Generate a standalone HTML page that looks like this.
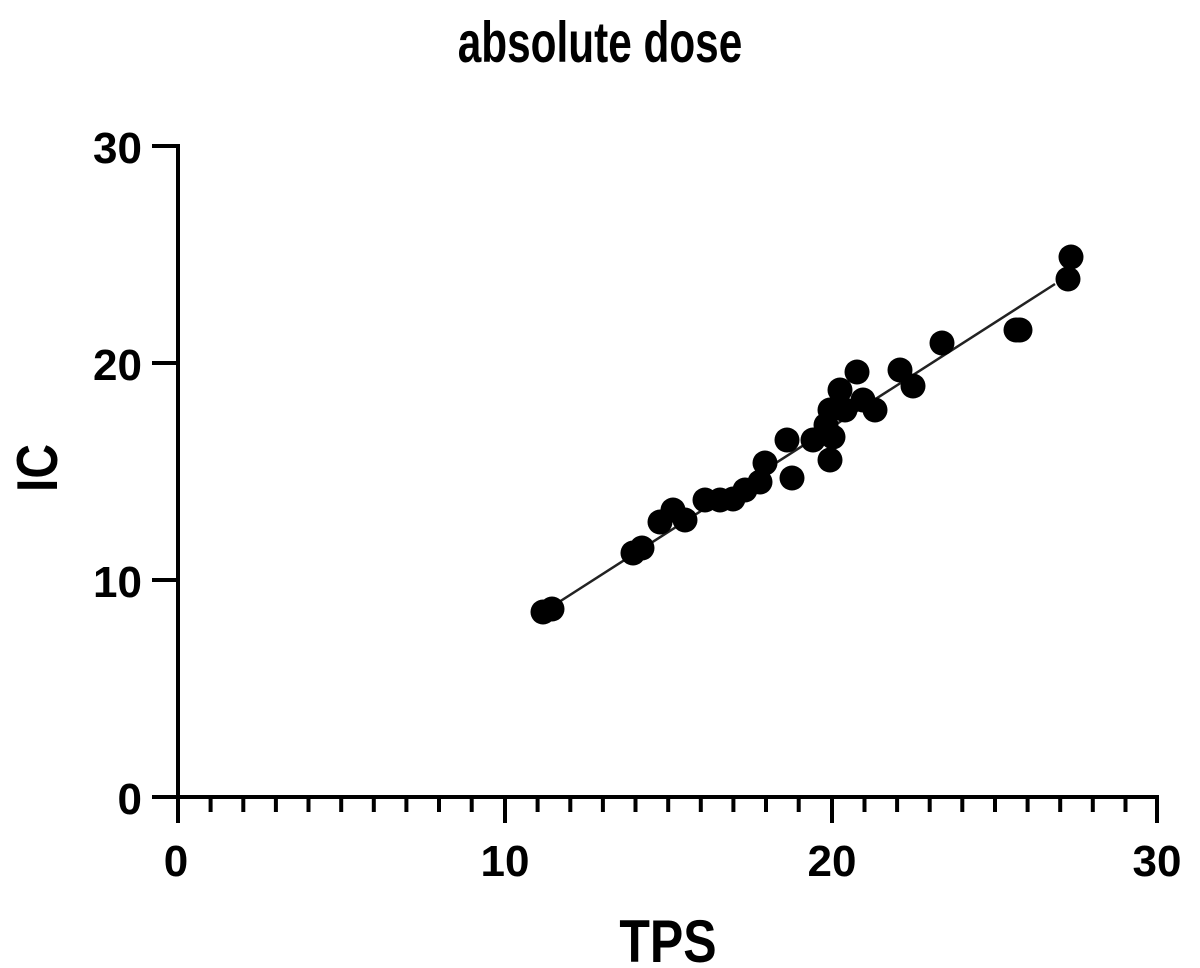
<!DOCTYPE html>
<html><head><style>body{margin:0;background:#fff}svg{display:block}</style></head>
<body>
<svg width="1200" height="968" viewBox="0 0 1200 968" xmlns="http://www.w3.org/2000/svg" font-family="Liberation Sans, sans-serif" font-weight="bold">
<rect width="1200" height="968" fill="#fff"/>
<text transform="translate(600,62) scale(0.92,1.25)" font-size="46" text-anchor="middle">absolute dose</text>
<g stroke="#000" stroke-width="4" fill="none">
<line x1="178" y1="144" x2="178" y2="823"/>
<line x1="152" y1="797" x2="1159" y2="797"/>
<line x1="152" y1="146" x2="178" y2="146"/>
<line x1="152" y1="363" x2="178" y2="363"/>
<line x1="152" y1="580" x2="178" y2="580"/>
<line x1="505" y1="797" x2="505" y2="823"/>
<line x1="832" y1="797" x2="832" y2="823"/>
<line x1="1157" y1="797" x2="1157" y2="823"/>
<path d="M210.6 797v15M243.3 797v15M275.9 797v15M308.5 797v15M341.2 797v15M373.8 797v15M406.4 797v15M439 797v15M471.7 797v15
M537.6 797v15M570.3 797v15M602.9 797v15M635.5 797v15M668.2 797v15M700.8 797v15M733.4 797v15M766 797v15M798.7 797v15
M864.5 797v15M897.1 797v15M929.7 797v15M962.3 797v15M995 797v15M1027.6 797v15M1060.2 797v15M1092.8 797v15M1125.5 797v15"/>
</g>
<g font-size="44" text-anchor="end">
<text x="142" y="163">30</text>
<text x="142" y="380">20</text>
<text x="142" y="597">10</text>
<text x="142" y="814">0</text>
</g>
<g font-size="44" text-anchor="middle">
<text x="176" y="876">0</text>
<text x="505" y="876">10</text>
<text x="832" y="876">20</text>
<text x="1157" y="876">30</text>
</g>
<text transform="translate(668,962) scale(1,1.2)" font-size="50" text-anchor="middle">TPS</text>
<text transform="translate(57,468) rotate(-90) scale(1,1.2)" font-size="48" text-anchor="middle">IC</text>
<line x1="545" y1="611" x2="1055" y2="284" stroke="#222" stroke-width="2.5"/>
<g fill="#000">
<circle cx="543" cy="612" r="12.5"/><circle cx="552" cy="609" r="12.5"/>
<circle cx="633" cy="553" r="12.5"/><circle cx="642" cy="548" r="12.5"/>
<circle cx="660" cy="522" r="12.5"/><circle cx="673" cy="510" r="12.5"/><circle cx="685" cy="520" r="12.5"/>
<circle cx="705" cy="500" r="12.5"/><circle cx="720" cy="500" r="12.5"/><circle cx="733" cy="499" r="12.5"/>
<circle cx="745" cy="490" r="12.5"/><circle cx="760" cy="482" r="12.5"/><circle cx="765" cy="463" r="12.5"/>
<circle cx="787" cy="440" r="12.5"/><circle cx="792" cy="478" r="12.5"/>
<circle cx="813" cy="440" r="12.5"/><circle cx="830" cy="460" r="12.5"/><circle cx="830" cy="410" r="12.5"/>
<circle cx="833" cy="437" r="12.5"/><circle cx="826" cy="425" r="12.5"/><circle cx="840" cy="390" r="12.5"/>
<circle cx="845" cy="410" r="12.5"/><circle cx="857" cy="372" r="12.5"/><circle cx="863" cy="400" r="12.5"/>
<circle cx="875" cy="410" r="12.5"/><circle cx="900" cy="370" r="12.5"/><circle cx="913" cy="386" r="12.5"/>
<circle cx="942" cy="343" r="12.5"/><circle cx="1016" cy="330" r="12.5"/><circle cx="1020" cy="330" r="12.5"/>
<circle cx="1071" cy="257" r="12.5"/><circle cx="1068" cy="279" r="12.5"/>
</g>
</svg>
</body></html>
